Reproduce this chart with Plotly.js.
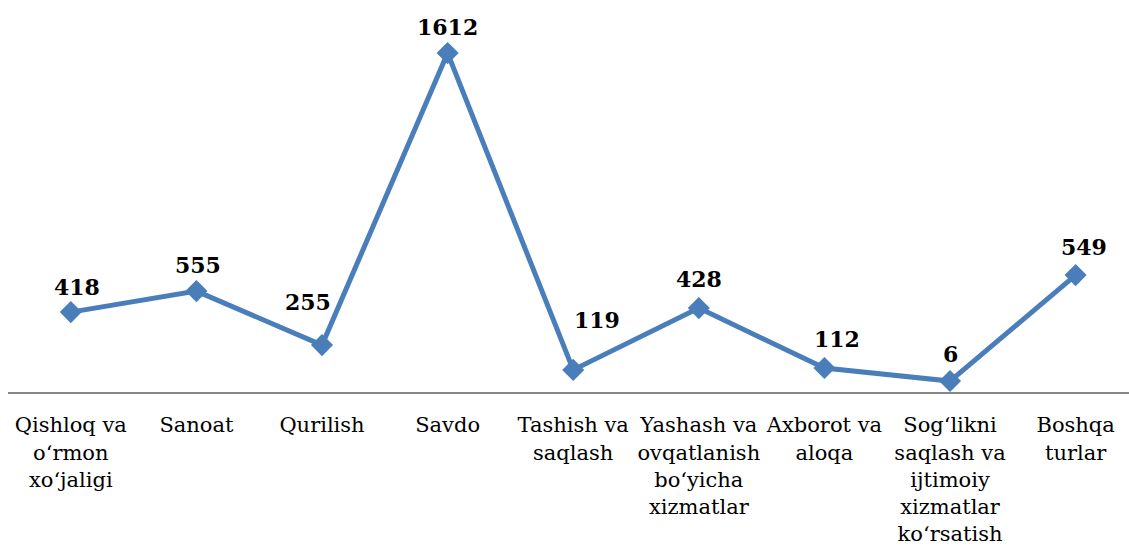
<!DOCTYPE html>
<html>
<head>
<meta charset="utf-8">
<script src="https://cdn.plot.ly/plotly-3.0.1.min.js"></script>
<style>html,body{margin:0;padding:0;background:#fff;}#chart{width:1129px;height:558px;}</style>
</head>
<body>
<div id="chart"></div>
<script>
// Categories (x axis)
const categories = [
  "Qishloq va<br>o‘rmon<br>xo‘jaligi",
  "Sanoat",
  "Qurilish",
  "Savdo",
  "Tashish va<br>saqlash",
  "Yashash va<br>ovqatlanish<br>bo‘yicha<br>xizmatlar",
  "Axborot va<br>aloqa",
  "Sog‘likni<br>saqlash va<br>ijtimoiy<br>xizmatlar<br>ko‘rsatish",
  "Boshqa<br>turlar"
];
// Data labels as printed on the chart
const labels = ["418", "555", "255", "1612", "119", "428", "112", "6", "549"];
// Plotted heights
const values = [380, 480, 223, 1612, 105, 399, 114, 52, 556];
// Label offsets (style only), in pixels
const labelDx = [6, 2, -14, 0, 24, 0, 13, 0, 8];
const labelDy = [25, 26, 43, 26, 50, 29, 29, 27, 28];

const SERIF = "DejaVu Serif";
const idx = categories.map((_, i) => i);

const trace = {
  type: "scatter",
  mode: "lines+markers",
  x: idx,
  y: values,
  line: {color: "#4a7ebb", width: 5},
  marker: {symbol: "diamond", size: 17, color: "#4a7ebb"},
  cliponaxis: false,
  hoverinfo: "skip"
};

const annotations = idx.map(i => ({
  x: i, y: values[i], xref: "x", yref: "y",
  text: "<b>" + labels[i] + "</b>",
  showarrow: false,
  xshift: labelDx[i], yshift: labelDy[i],
  xanchor: "center", yanchor: "middle",
  font: {family: SERIF, size: 22, color: "#000"}
}));

const layout = {
  width: 1129, height: 558,
  margin: {l: 8, r: 0, t: 35, b: 166},
  paper_bgcolor: "#fff", plot_bgcolor: "#fff",
  showlegend: false,
  font: {family: SERIF},
  xaxis: {
    range: [-0.5, 8.425],
    tickmode: "array", tickvals: idx, ticktext: categories,
    tickangle: 0,
    showgrid: false, zeroline: false,
    showline: true, linecolor: "#868686", linewidth: 2,
    ticks: "", ticklabelstandoff: 13,
    tickfont: {family: SERIF, size: 21, color: "#000"},
    fixedrange: true
  },
  yaxis: {
    range: [0, 1698],
    visible: false, showgrid: false, zeroline: false,
    fixedrange: true
  },
  annotations: annotations
};

Plotly.newPlot("chart", [trace], layout, {displayModeBar: false, staticPlot: true});
</script>
</body>
</html>
